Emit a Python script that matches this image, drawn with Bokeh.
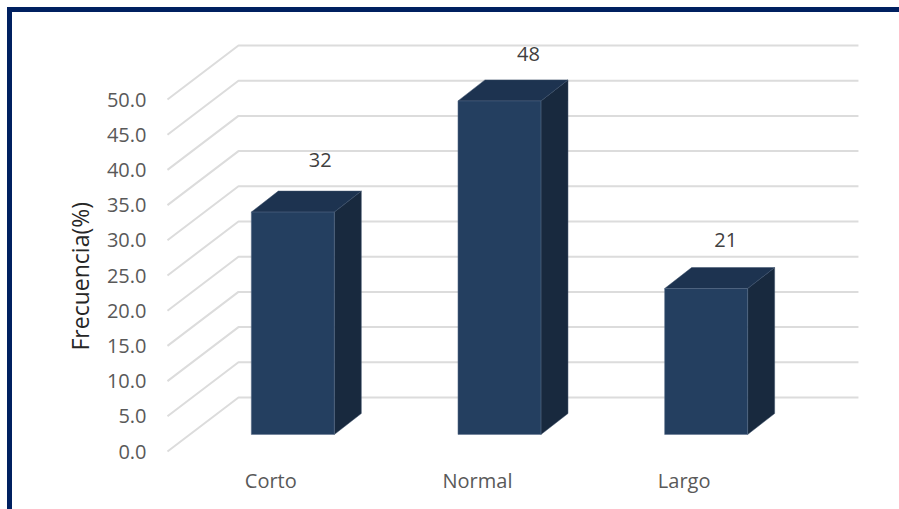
from bokeh.embed import file_html
from bokeh.models import ColumnDataSource, FixedTicker, LinearAxis, Range1d, Title
from bokeh.plotting import figure
from bokeh.resources import INLINE

# Data
categories = ["Corto", "Normal", "Largo"]
frecuencia = [32, 48, 21]
y_ticks = [0, 5, 10, 15, 20, 25, 30, 35, 40, 45, 50]
y_tick_labels = ["0.0", "5.0", "10.0", "15.0", "20.0", "25.0", "30.0", "35.0", "40.0", "45.0", "50.0"]

# Page and plot-frame layout, in pixels
W, H = 899, 509
F_L, F_R, F_T, F_B = 150, 870, 30, 460

# Scales: pixels per category and per percentage point
PX_X = 206.67
PX_Y = 7.04
X0 = 270.3   # pixel of the first category on the front plane
Y0 = 451.0   # pixel of value 0 on the front plane
to_x = lambda px: (px - X0) / PX_X
to_y = lambda px: (Y0 - px) / PX_Y

# 3D projection, in data units
WALL_DX, WALL_DY = 71 / PX_X, 54 / PX_Y
WALL_END = 620 / PX_X
BAR_DX, BAR_DY = 27 / PX_X, 21 / PX_Y
BAR_SHIFT = 22 / PX_X
BAR_W = 83 / PX_X
BAR_BASE = 17 / PX_Y
BAR_SCALE = 6.95 / PX_Y

FONT = "Open Sans"
TEXT = "#595959"
FRONT, TOP, SIDE = "#243F60", "#1D3350", "#18293E"
FRAME = "#002060"

p = figure(
    width=W, height=H, output_backend="svg", toolbar_location=None,
    x_range=Range1d(to_x(F_L), to_x(F_R)), y_range=Range1d(to_y(F_B), to_y(F_T)),
    min_border_left=F_L, min_border_right=W - F_R, min_border_top=F_T, min_border_bottom=H - F_B,
    x_axis_type=None, y_axis_type=None, outline_line_color=None,
    background_fill_color="white", border_fill_color=None,
)
p.grid.visible = False

# Dark blue frame along the top and left edges of the page
p.styles = {
    "background-color": "white",
    "background-image": f"linear-gradient({FRAME},{FRAME}), linear-gradient({FRAME},{FRAME})",
    "background-position": "7px 7px, 7px 7px",
    "background-size": "892px 5px, 5px 502px",
    "background-repeat": "no-repeat",
}

# Value axis on the front plane
y_axis = LinearAxis(
    ticker=FixedTicker(ticks=y_ticks),
    major_label_overrides={t: s for t, s in zip(y_ticks, y_tick_labels)},
    axis_line_color=None, major_tick_line_color=None, minor_tick_line_color=None,
    major_tick_in=0, major_tick_out=0, major_label_standoff=4,
    major_label_text_font=FONT, major_label_text_font_size="20px", major_label_text_color=TEXT,
)
p.add_layout(y_axis, "left")

# Category axis on the front plane
x_axis = LinearAxis(
    ticker=FixedTicker(ticks=list(range(len(categories)))),
    major_label_overrides={i: c for i, c in enumerate(categories)},
    axis_line_color=None, major_tick_line_color=None, minor_tick_line_color=None,
    major_tick_in=0, major_tick_out=0, major_label_standoff=6,
    major_label_text_font=FONT, major_label_text_font_size="20px", major_label_text_color=TEXT,
)
p.add_layout(x_axis, "below")

# Axis title, stacked left of the value axis and raised from the frame's lower end
p.add_layout(Title(text="Frecuencia(%)", align="left", offset=110, standoff=15,
                   text_font=FONT, text_font_size="23px", text_font_style="normal",
                   text_color="#262626"), "left")

# Gridlines running along the side wall and across the back wall
grid_x = [[-0.5, -0.5 + WALL_DX, -0.5 + WALL_DX + WALL_END] for _ in y_ticks]
grid_y = [[t, t + WALL_DY, t + WALL_DY] for t in y_ticks]
p.multi_line(grid_x, grid_y, line_color="#DCDCDC", line_width=2)

# Bars: side and top faces behind the front face
for i, v in enumerate(frecuencia):
    left = i + BAR_SHIFT - BAR_W / 2
    right = left + BAR_W
    bottom = BAR_BASE
    top = BAR_BASE + v * BAR_SCALE
    p.patch([right, right + BAR_DX, right + BAR_DX, right],
            [bottom, bottom + BAR_DY, top + BAR_DY, top],
            fill_color=SIDE, line_color="#3A4E68", line_width=0.5)
    p.patch([left, left + BAR_DX, right + BAR_DX, right],
            [top, top + BAR_DY, top + BAR_DY, top],
            fill_color=TOP, line_color="#3A4E68", line_width=0.5)
    p.quad(left=[left], right=[right], bottom=[bottom], top=[top],
           fill_color=FRONT, line_color="#5A6F8A", line_width=0.5)

# Value labels floating above each bar
nudge_x = [27.5, 29, 19.5]
nudge_y = [-52, -47, -49]
label_src = ColumnDataSource(dict(
    x=[i + BAR_SHIFT for i in range(len(categories))],
    y=[BAR_BASE + v * BAR_SCALE for v in frecuencia],
    t=[str(v) for v in frecuencia],
    dx=nudge_x, dy=nudge_y,
))
p.text("x", "y", text="t", source=label_src, x_offset="dx", y_offset="dy",
       text_align="center", text_baseline="middle",
       text_font={"value": FONT}, text_font_size="20px", text_color="#404040")

open("out.html", "w").write(file_html(p, INLINE))
